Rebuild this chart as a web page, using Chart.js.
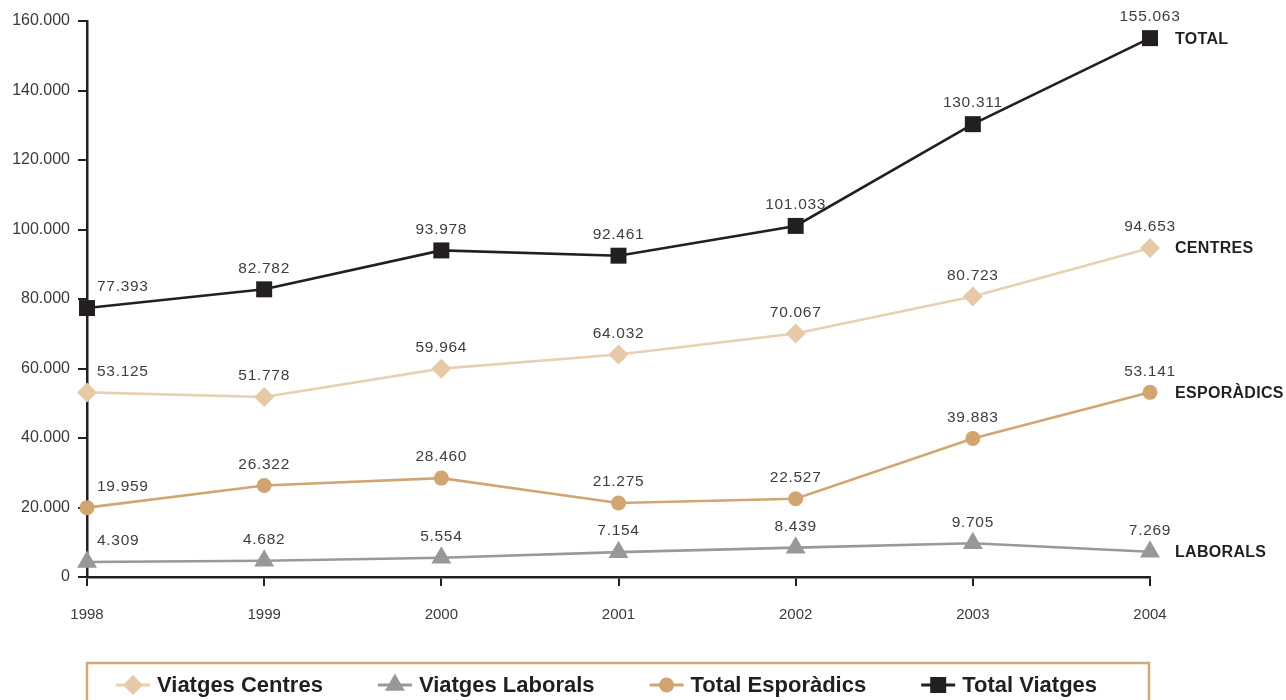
<!DOCTYPE html>
<html><head><meta charset="utf-8">
<script src="https://cdn.jsdelivr.net/npm/chart.js@4/dist/chart.umd.min.js"></script>
<style>html,body{margin:0;padding:0;background:#fff;overflow:hidden}#wrap{width:1286px;height:700px;position:relative}</style>
</head><body><div id="wrap"><canvas id="c" width="1286" height="700"></canvas></div>
<script>
const years = ['1998','1999','2000','2001','2002','2003','2004'];
const viatgesCentres   = [53125, 51778, 59964, 64032, 70067, 80723, 94653];
const viatgesLaborals  = [4309, 4682, 5554, 7154, 8439, 9705, 7269];
const totalEsporadics  = [19959, 26322, 28460, 21275, 22527, 39883, 53141];
const totalViatges     = [77393, 82782, 93978, 92461, 101033, 130311, 155063];
const seriesNames = ['Viatges Centres', 'Viatges Laborals', 'Total Esporàdics', 'Total Viatges'];
const endLabels   = ['CENTRES', 'LABORALS', 'ESPORÀDICS', 'TOTAL'];
const yTickValues = [0, 20000, 40000, 60000, 80000, 100000, 120000, 140000, 160000];

const FONT = '"Liberation Sans", Arial, Helvetica, sans-serif';
const DARK = '#231f20';
function fmt(v){ return String(v).replace(/\B(?=(\d{3})+(?!\d))/g, '.'); }

const styles = [
  {color:'#e8d0b2', point:'#e6caa7', style:'rectRot', r:10},
  {color:'#99999b', point:'#98989a', style:'triangle', r:11.5},
  {color:'#d2a674', point:'#d1a572', style:'circle', r:7.5},
  {color:DARK,      point:DARK,      style:'rect', r:11.3}
];
const seriesData = [viatgesCentres, viatgesLaborals, totalEsporadics, totalViatges];

const datasets = seriesData.map((d, i) => ({
  label: seriesNames[i],
  data: d,
  borderColor: styles[i].color,
  backgroundColor: styles[i].point,
  borderWidth: 2.6,
  tension: 0,
  pointStyle: styles[i].style,
  pointRadius: styles[i].r,
  pointHoverRadius: styles[i].r,
  pointBackgroundColor: styles[i].point,
  pointBorderColor: styles[i].point,
  pointBorderWidth: 0,
  clip: false
}));

const valueLabels = {
  id: 'valueLabels',
  afterDatasetsDraw(chart) {
    const ctx = chart.ctx;
    ctx.save();
    ctx.font = '15.5px ' + FONT;
    ctx.fillStyle = '#3e3e3e';
    ctx.textBaseline = 'middle';
    try { ctx.letterSpacing = '0.7px'; } catch(e) {}
    chart.data.datasets.forEach((ds, i) => {
      const meta = chart.getDatasetMeta(i);
      meta.data.forEach((pt, j) => {
        const txt = fmt(ds.data[j]);
        if (j === 0) { ctx.textAlign = 'left'; ctx.fillText(txt, pt.x + 10, pt.y - 21); }
        else { ctx.textAlign = 'center'; ctx.fillText(txt, pt.x, pt.y - 21); }
      });
      const last = meta.data[meta.data.length - 1];
      ctx.save();
      ctx.font = 'bold 16px ' + FONT;
      ctx.fillStyle = DARK;
      ctx.textAlign = 'left';
      ctx.letterSpacing = '0.3px';
      ctx.fillText(endLabels[i], last.x + 25, last.y + 1);
      ctx.restore();
    });
    ctx.restore();
  }
};

const customLegend = {
  id: 'customLegend',
  afterDraw(chart) {
    const ctx = chart.ctx;
    const area = chart.chartArea;
    ctx.save();
    ctx.strokeStyle = '#d3a978';
    ctx.lineWidth = 2.5;
    ctx.strokeRect(area.left, 663, area.right - area.left - 1, 60);
    ctx.font = 'bold 22px ' + FONT;
    ctx.textBaseline = 'middle';
    ctx.textAlign = 'left';
    let x = 116;
    const cy = 685;
    chart.data.datasets.forEach((ds, i) => {
      ctx.strokeStyle = ds.borderColor;
      ctx.lineWidth = 3;
      ctx.beginPath(); ctx.moveTo(x, cy); ctx.lineTo(x + 34, cy); ctx.stroke();
      ctx.fillStyle = ds.pointBackgroundColor;
      Chart.helpers.drawPoint(ctx, {pointStyle: ds.pointStyle, radius: ds.pointRadius, rotation: 0, borderWidth: 0}, x + 17, cy);
      ctx.fillStyle = DARK;
      ctx.fillText(ds.label, x + 41, cy + 1);
      x += 41 + ctx.measureText(ds.label).width + 55;
    });
    ctx.restore();
  }
};

new Chart(document.getElementById('c'), {
  type: 'line',
  data: { labels: years, datasets },
  options: {
    responsive: false,
    devicePixelRatio: 1,
    animation: false,
    events: [],
    layout: { padding: { left: 0, top: 21, right: 136, bottom: 73 } },
    plugins: { legend: { display: false }, tooltip: { enabled: false } },
    scales: {
      x: {
        type: 'category',
        offset: false,
        afterFit: s => { s.height = 50; },
        grid: { drawOnChartArea: false, drawTicks: true, tickLength: 9, color: DARK, lineWidth: 2 },
        border: { display: true, color: DARK, width: 2.5 },
        ticks: { padding: 20, color: '#3a3a3a', font: { family: FONT, size: 15 }, maxRotation: 0, autoSkip: false }
      },
      y: {
        min: 0, max: 160000,
        afterFit: s => { s.width = 87; },
        afterBuildTicks: s => { s.ticks = yTickValues.map(v => ({ value: v })); },
        grid: { drawOnChartArea: false, drawTicks: true, tickLength: 9, color: DARK, lineWidth: 2 },
        border: { display: true, color: DARK, width: 2.5 },
        ticks: { padding: 8, color: '#3a3a3a', font: { family: FONT, size: 16 }, callback: v => fmt(v) }
      }
    }
  },
  plugins: [valueLabels, customLegend]
});
</script></body></html>
